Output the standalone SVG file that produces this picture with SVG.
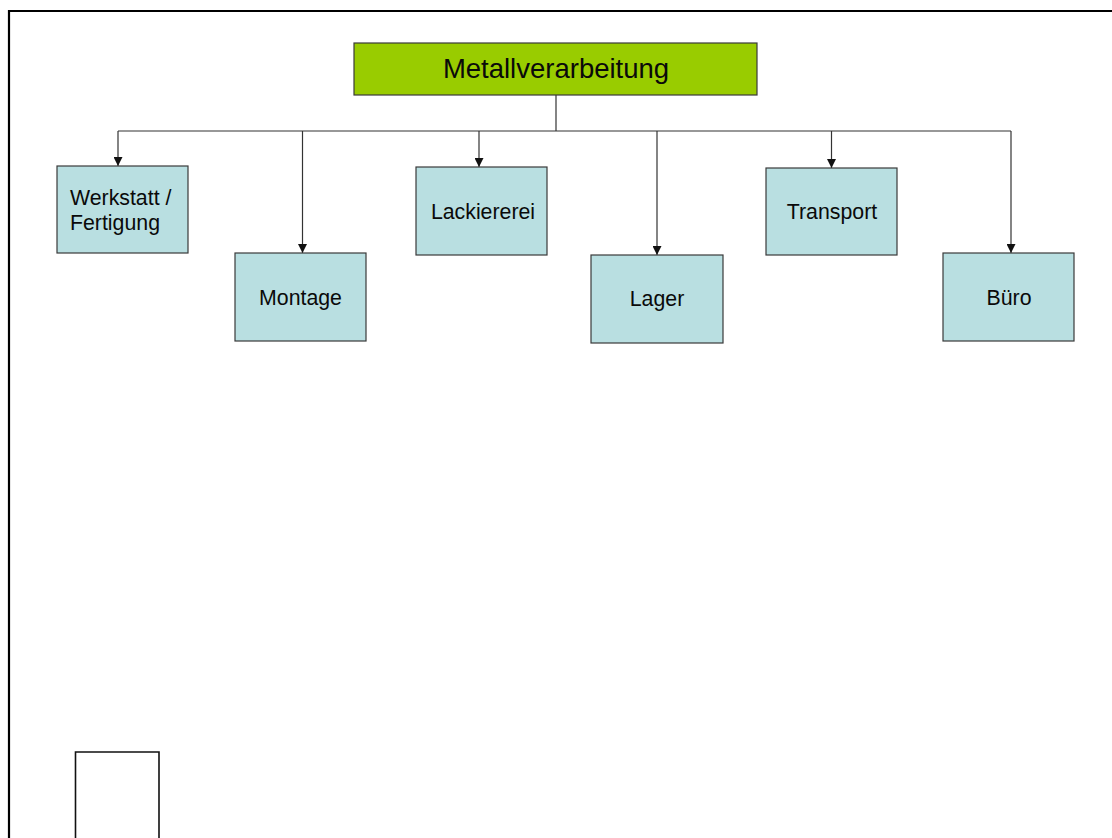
<svg xmlns="http://www.w3.org/2000/svg" width="1112" height="838" viewBox="0 0 1112 838">
  <style>
    .frame { fill: none; stroke: #000; stroke-width: 2.2; }
    .root { fill: #99cc00; stroke: #3a3a3a; stroke-width: 1.2; }
    .unit { fill: #b9dfe1; stroke: #3a3a3a; stroke-width: 1.2; }
    .link { fill: none; stroke: #333; stroke-width: 1.2; }
    .lbl { font-family: "Liberation Sans", Arial, sans-serif; font-size: 21.3px; fill: #0a0a0a; }
    .title { font-family: "Liberation Sans", Arial, sans-serif; font-size: 27.5px; fill: #0a0a0a; }
    .mid { text-anchor: middle; }
  </style>
  <defs>
    <marker id="arrow" viewBox="0 0 10 10" refX="10" refY="5" markerWidth="10" markerHeight="9" markerUnits="userSpaceOnUse" orient="auto">
      <path d="M0,0 L10,5 L0,10 z" fill="#111"/>
    </marker>
  </defs>

  <rect width="1112" height="838" fill="#fff"/>

  <!-- page frame (top and left edges) -->
  <path class="frame" d="M9,838 V11 H1112"/>

  <!-- empty placeholder box, bottom left -->
  <path d="M75.5,838 V752 H159 V838" fill="none" stroke="#111" stroke-width="1.6"/>

  <!-- connectors -->
  <g id="connectors">
    <path class="link" d="M556,95 V131"/>
    <path class="link" d="M118,131 H1011"/>
    <path class="link" d="M118,131 V166" marker-end="url(#arrow)"/>
    <path class="link" d="M302.5,131 V253" marker-end="url(#arrow)"/>
    <path class="link" d="M479,131 V167" marker-end="url(#arrow)"/>
    <path class="link" d="M657,131 V255" marker-end="url(#arrow)"/>
    <path class="link" d="M831.5,131 V168" marker-end="url(#arrow)"/>
    <path class="link" d="M1011,131 V253" marker-end="url(#arrow)"/>
  </g>

  <g id="metallverarbeitung">
    <rect class="root" x="354" y="43" width="403" height="52"/>
    <text class="title mid" x="556" y="78">Metallverarbeitung</text>
  </g>

  <g id="werkstatt">
    <rect class="unit" x="57" y="166" width="131" height="87"/>
    <text class="lbl" x="70" y="205">Werkstatt /</text>
    <text class="lbl" x="70" y="230">Fertigung</text>
  </g>

  <g id="montage">
    <rect class="unit" x="235" y="253" width="131" height="88"/>
    <text class="lbl mid" x="300.5" y="305">Montage</text>
  </g>

  <g id="lackiererei">
    <rect class="unit" x="416" y="167" width="131" height="88"/>
    <text class="lbl mid" x="483" y="219">Lackiererei</text>
  </g>

  <g id="lager">
    <rect class="unit" x="591" y="255" width="132" height="88"/>
    <text class="lbl mid" x="657" y="306">Lager</text>
  </g>

  <g id="transport">
    <rect class="unit" x="766" y="168" width="131" height="87"/>
    <text class="lbl mid" x="832" y="219">Transport</text>
  </g>

  <g id="buero">
    <rect class="unit" x="943" y="253" width="131" height="88"/>
    <text class="lbl mid" x="1009" y="305">Büro</text>
  </g>
</svg>
